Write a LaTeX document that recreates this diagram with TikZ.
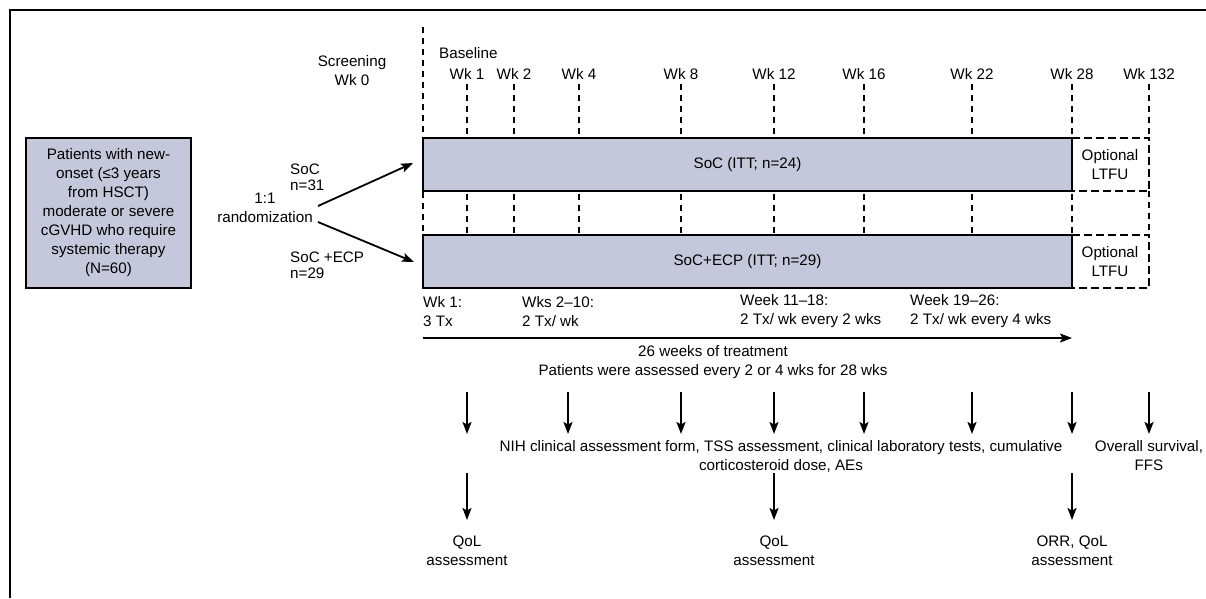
\documentclass[tikz,border=0pt]{standalone}
\usepackage{fontspec}
\setmainfont{Liberation Sans}
\usetikzlibrary{arrows.meta}
\definecolor{barfill}{RGB}{197,200,219}
\begin{document}
\begin{tikzpicture}[x=1pt,y=-1pt,
  txt/.style={font=\fontsize{15.2}{19}\selectfont, inner sep=0pt, align=center},
  tight/.style={font=\fontsize{15.2}{16}\selectfont},
  tickline/.style={line width=1.7pt, dash pattern=on 6pt off 5pt},
  barbox/.style={draw, line width=2pt, fill=barfill, minimum width=649pt, minimum height=53pt, inner sep=0pt},
  ltfu/.style={line width=1.7pt, dash pattern=on 8pt off 4pt},
  arr/.style={line width=1.8pt, -{Stealth[length=12pt,width=9pt,inset=2.5pt]}},
  frameline/.style={line width=2.5pt}]
\useasboundingbox (0,0) rectangle (1206,598);
% frame
\coordinate (f0) at (10,10);
\coordinate (f1) at (1206,10);
\coordinate (f2) at (10,598);
\draw[frameline] (f2) -- (f0) -- (f1);
% header
\node[txt] (scr) at (352,71) {Screening\\Wk 0};
\node[txt, anchor=west] (base) at (439,53) {Baseline};
\foreach \n/\x/\l in {w1/467/Wk 1, w2/514/Wk 2, w4/579/Wk 4, w8/681/Wk 8, w12/774/Wk 12, w16/864/Wk 16, w22/972/Wk 22, w28/1072/Wk 28}{
  \node[txt] (\n) at (\x,74) {\l};
  \coordinate (\n t) at (\x,84);
  \coordinate (\n b) at (\x,288);
  \draw[tickline] (\n t) -- (\n b);
}
\node[txt] (w132) at (1149,74) {Wk 132};
\coordinate (w132t) at (1149,84);
\coordinate (w132u) at (1149,138);
\coordinate (w132m) at (1149,191);
\coordinate (w132n) at (1149,235);
\draw[tickline] (w132t) -- (w132u);
\draw[tickline] (w132m) -- (w132n);
\coordinate (bt) at (423,27);
\coordinate (bb) at (423,288);
\draw[tickline] (bt) -- (bb);
% left box
\node[draw, line width=2pt, fill=barfill, minimum width=165pt, minimum height=150pt, inner sep=0pt, txt] (pat) at (108.5,213)
  {Patients with new-\\onset (≤3 years\\from HSCT)\\moderate or severe\\cGVHD who require\\systemic therapy\\(N=60)};
\node[txt] (rand) at (265,208) {1:1\\randomization};
\node[txt, tight, anchor=west, align=left] (socn) at (290,177.5) {SoC\\n=31};
\node[txt, tight, anchor=west, align=left] (ecpn) at (290,265) {SoC +ECP\\n=29};
% bars
\node[barbox, txt] (socbar) at (747.5,164.5) {SoC (ITT; n=24)};
\node[barbox, txt] (ecpbar) at (747.5,261.5) {SoC+ECP (ITT; n=29)};
\coordinate (l1a) at (1072,138); \coordinate (l1b) at (1149,138);
\coordinate (l1c) at (1149,191); \coordinate (l1d) at (1072,191);
\draw[ltfu] (l1a) -- (l1b) -- (l1c) -- (l1d);
\coordinate (l2a) at (1072,235); \coordinate (l2b) at (1149,235);
\coordinate (l2c) at (1149,288); \coordinate (l2d) at (1072,288);
\draw[ltfu] (l2a) -- (l2b) -- (l2c) -- (l2d);
\node[txt] (lt1) at (1110,165) {Optional\\LTFU};
\node[txt] (lt2) at (1110,262) {Optional\\LTFU};
% randomization arrows
\coordinate (r1) at (318,206);
\coordinate (r2) at (318,222);
\coordinate (e1) at (413,163);
\coordinate (e2) at (414,262);
\draw[arr] (r1) -- (e1);
\draw[arr] (r2) -- (e2);
% treatment schedule
\node[txt, anchor=west, align=left] (tx1) at (423,311.5) {Wk 1:\\3 Tx};
\node[txt, anchor=west, align=left] (tx2) at (522,311.5) {Wks 2--10:\\2 Tx/ wk};
\node[txt, anchor=west, align=left] (tx3) at (740,311.5) {Week 11--18:\\2 Tx/ wk every 2 wks};
\node[txt, anchor=west, align=left] (tx4) at (910,311.5) {Week 19--26:\\2 Tx/ wk every 4 wks};
\coordinate (ts) at (423,338);
\coordinate (te) at (1072,338);
\draw[arr] (ts) -- (te);
\node[txt] (wks) at (713,362.5) {26 weeks of treatment\\Patients were assessed every 2 or 4 wks for 28 wks};
% assessment arrows
\foreach \x in {467,568,681,774,864,972,1072,1149}{
  \coordinate (d\x s) at (\x,392);
  \coordinate (d\x e) at (\x,434);
  \draw[arr] (d\x s) -- (d\x e);
}
\node[txt] (nih) at (781,456) {NIH clinical assessment form, TSS assessment, clinical laboratory tests, cumulative\\corticosteroid dose, AEs};
\node[txt] (os) at (1149,456) {Overall survival,\\FFS};
\foreach \x in {467,774,1072}{
  \coordinate (q\x s) at (\x,473);
  \coordinate (q\x e) at (\x,520);
  \draw[arr] (q\x s) -- (q\x e);
}
\node[txt] (qol1) at (467,551) {QoL\\assessment};
\node[txt] (qol2) at (774,551) {QoL\\assessment};
\node[txt] (orr) at (1072,551) {ORR, QoL\\assessment};
\end{tikzpicture}
\end{document}
